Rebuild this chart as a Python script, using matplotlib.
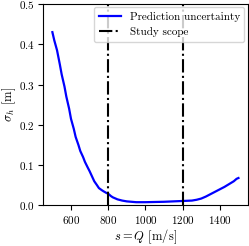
import matplotlib
matplotlib.use("Agg")
import matplotlib.pyplot as plt

plt.rcParams["font.family"] = "serif"
plt.rcParams["font.serif"] = ["cmr10"]
plt.rcParams["mathtext.fontset"] = "cm"
plt.rcParams["axes.formatter.use_mathtext"] = True
plt.rcParams["font.size"] = 8
plt.rcParams["xtick.major.pad"] = 2.5
plt.rcParams["ytick.major.pad"] = 2.5

# discharge s = Q [m/s] and predicted std of water height [m]
q = [500, 510, 525, 540, 550, 565, 575, 590, 600, 615, 625, 640, 650, 665, 675,
     690, 700, 715, 725, 740, 750, 765, 775, 790, 800, 815, 825, 840, 850, 875,
     900, 925, 950, 1000, 1050, 1100, 1150, 1200, 1225, 1250, 1275, 1300, 1325,
     1350, 1375, 1400, 1425, 1450, 1475, 1490, 1500]
sigma = [0.43, 0.41, 0.385, 0.35, 0.325, 0.295, 0.27, 0.24, 0.215, 0.19, 0.17,
         0.15, 0.135, 0.12, 0.108, 0.094, 0.085, 0.07, 0.06, 0.05, 0.043, 0.038,
         0.035, 0.031, 0.029, 0.023, 0.02, 0.017, 0.015, 0.012, 0.010, 0.009,
         0.008, 0.008, 0.0085, 0.009, 0.010, 0.011, 0.0115, 0.012, 0.014, 0.017,
         0.022, 0.028, 0.034, 0.040, 0.046, 0.053, 0.060, 0.066, 0.068]
scope = [800, 1200]

fig, ax = plt.subplots(figsize=(2.49, 2.46), dpi=100)
ax.plot(q, sigma, color="blue", lw=1.6, label="Prediction uncertainty")
for i, s in enumerate(scope):
    ax.axvline(s, color="black", ls="-.", lw=1.5,
               label="Study scope" if i == 0 else None)
ax.set_ylim(0, 0.5)
ax.set_xticks([600, 800, 1000, 1200, 1400])
ax.set_xlabel(r"$s = Q$ [m/s]", fontsize=9, labelpad=1)
ax.set_ylabel(r"$\sigma_h$ [m]", fontsize=9, labelpad=1)
ax.legend(loc="upper right", fontsize=8, borderaxespad=0.3, handlelength=2.0)
fig.subplots_adjust(left=0.173, right=0.995, top=0.984, bottom=0.165)
fig.savefig("out.png", dpi=100)
